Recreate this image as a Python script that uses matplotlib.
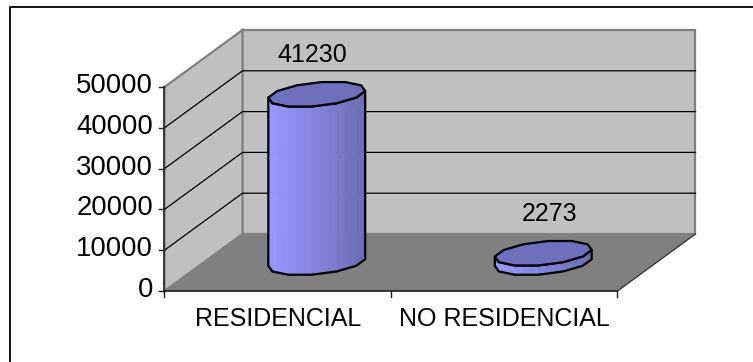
"""3D style cylinder chart, residencial vs no residencial"""
import numpy as np
import matplotlib.pyplot as plt
from matplotlib.patches import Polygon

categories = ["RESIDENCIAL", "NO RESIDENCIAL"]
values = [41230, 2273]
y_ticks = [0, 10000, 20000, 30000, 40000, 50000]
y_max = 50000

# oblique projection of the plot box, in pixels
x0, y0 = 164.5, 291.0
box_w, box_h = 453.0, 204.0
dx, dy = 78.0, 57.0
n_cat = len(categories)


def proj(cat, val, depth):
    # cat in category units, val in data units, depth 0 front - 1 back
    return (x0 + cat / n_cat * box_w + depth * dx,
            y0 - val / y_max * box_h - depth * dy)


plt.rcParams['font.family'] = ['Liberation Sans', 'DejaVu Sans']
fig = plt.figure(figsize=(7.53, 3.62), dpi=100)
ax = fig.add_axes([0, 0, 1, 1])
ax.set_xlim(0, 753)
ax.set_ylim(362, 0)
ax.axis("off")

# chart frame, only top and left are inside the picture
ax.plot([10, 10, 753], [362, 7, 7], color="black", lw=1.3, zorder=1)

# walls and floor
wall = "#c0c0c0"
edge = "#808080"
ax.add_patch(Polygon([proj(0, 0, 1), proj(n_cat, 0, 1), proj(n_cat, y_max, 1), proj(0, y_max, 1)],
                     fc=wall, ec=edge, lw=1.6, zorder=2))
ax.add_patch(Polygon([proj(0, 0, 0), proj(0, 0, 1), proj(0, y_max, 1), proj(0, y_max, 0)],
                     fc=wall, ec=edge, lw=1.6, zorder=2))
ax.add_patch(Polygon([proj(0, 0, 0), proj(n_cat, 0, 0), proj(n_cat, 0, 1), proj(0, 0, 1)],
                     fc="#808080", ec="none", zorder=3))

# gridlines along the side wall and the back wall
for t in y_ticks[1:-1]:
    a, b, c = proj(0, t, 0), proj(0, t, 1), proj(n_cat, t, 1)
    ax.plot([a[0], b[0], c[0]], [a[1], b[1], c[1]], color="black", lw=0.9, zorder=4)
a, b = proj(n_cat, 0, 0), proj(n_cat, 0, 1)
ax.plot([a[0], b[0]], [a[1], b[1]], color="#303030", lw=0.9, zorder=4)

# axes lines and ticks
a, b = proj(0, 0, 0), proj(0, y_max, 0)
ax.plot([a[0], b[0]], [a[1], b[1]], color="#303030", lw=1.3, zorder=5)
a, b = proj(0, 0, 0), proj(n_cat, 0, 0)
ax.plot([a[0], b[0]], [a[1], b[1]], color="#202020", lw=1.2, zorder=5)
for t in y_ticks:
    p = proj(0, t, 0)
    ax.plot([p[0] - 5, p[0]], [p[1], p[1]], color="#202020", lw=1.0, zorder=5)
    ax.text(p[0] - 11.5, p[1] - 1, str(t), ha="right", va="center", fontsize=19.8, color="black")
for i in range(n_cat + 1):
    p = proj(i, 0, 0)
    ax.plot([p[0], p[0]], [p[1], p[1] + 6], color="#202020", lw=1.0, zorder=5)

# cylinders, drawn as faceted discs like the source
angles = np.radians(np.arange(0, 360, 30) + 15)
r_cat = 45.5 / box_w * n_cat
r_depth = 0.222
light = np.array([153, 153, 255]) / 255
dark = np.array([108, 108, 184]) / 255
top_col = "#6f6fbd"
label_shift = [-4, 6]

for i, (cat, val) in enumerate(zip(categories, values)):
    cat_mid = i + 0.5
    cs = cat_mid + r_cat * np.cos(angles)
    ds = 0.5 + r_depth * np.sin(angles)
    base = np.array([proj(c, 0, d) for c, d in zip(cs, ds)])
    top = np.array([proj(c, val, d) for c, d in zip(cs, ds)])

    # front facets are the ones facing down in the projection
    front = [k for k in range(len(angles)) if np.sin(angles[k]) < 0.3 * np.cos(angles[k]) + 0.1]
    front = sorted(front, key=lambda k: base[k, 0])
    xmin, xmax = base[:, 0].min(), base[:, 0].max()
    for k, m in zip(front[:-1], front[1:]):
        # each facet is split in strips, the source shades it in steps
        for s in range(3):
            t0, t1 = s / 3, (s + 1) / 3
            b0, b1 = base[k] + (base[m] - base[k]) * t0, base[k] + (base[m] - base[k]) * t1
            u0, u1 = top[k] + (top[m] - top[k]) * t0, top[k] + (top[m] - top[k]) * t1
            f = (0.5 * (b0[0] + b1[0]) - xmin) / (xmax - xmin)
            col = light + (dark - light) * f
            ax.add_patch(Polygon([b0, b1, u1, u0], fc=col, ec=col, lw=0.3, zorder=6))
    outline = [top[k] for k in front] + [base[k] for k in front[::-1]]
    ax.add_patch(Polygon(outline, fc="none", ec="black", lw=1.6, joinstyle="round", zorder=7))
    ax.add_patch(Polygon(top, fc=top_col, ec="black", lw=1.6, joinstyle="round", zorder=8))

    lab = proj(cat_mid, val, 0.5)
    ax.text(lab[0] + label_shift[i], lab[1] - 39, str(val), ha="center", va="center",
            fontsize=18, color="black", zorder=9)
    p = proj(cat_mid, 0, 0)
    ax.text(p[0], 319.5, cat, ha="center", va="center", fontsize=18, color="black")

fig.savefig("out.png", dpi=100)
